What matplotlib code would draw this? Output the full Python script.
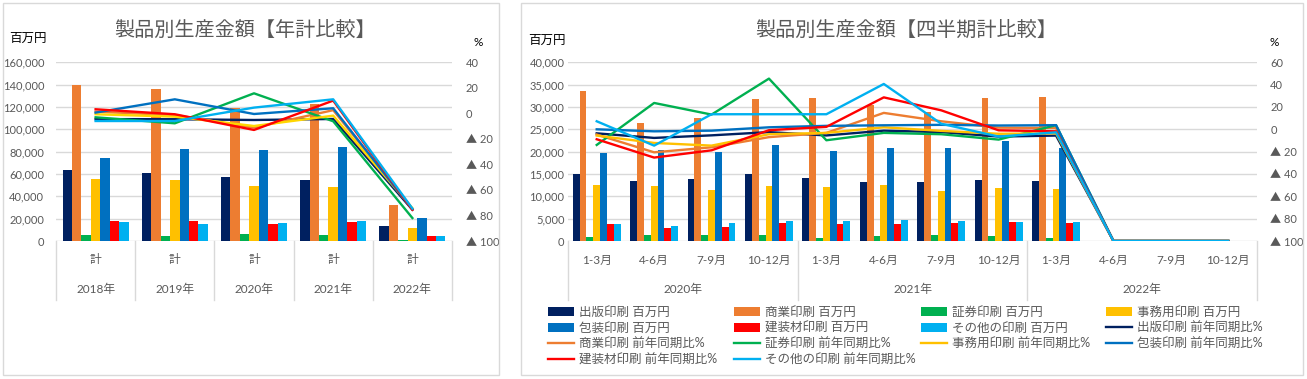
import matplotlib
matplotlib.use('Agg')
import matplotlib.pyplot as plt
from matplotlib.ticker import FuncFormatter
from matplotlib.transforms import blended_transform_factory
from matplotlib.patches import Rectangle
import numpy as np

plt.rcParams['font.family'] = ['Lato', 'Noto Sans CJK JP', 'DejaVu Sans']

# ---------------- data ----------------
series_names = ['出版印刷', '商業印刷', '証券印刷', '事務用印刷', '包装印刷', '建装材印刷', 'その他の印刷']
bar_colors = ['#002060', '#ED7D31', '#00B050', '#FFC000', '#0070C0', '#FF0000', '#00B0F0']
line_colors_left = ['#002060', '#ED7D31', '#00B050', '#FFD600', '#0070C0', '#FF0000', '#00B0F0']

# Left chart: annual totals (百万円) and YoY (%)
years = ['2018年', '2019年', '2020年', '2021年', '2022年']
year_sub = ['計', '計', '計', '計', '計']
annual_shuppan = [63300, 60600, 57000, 54600, 13400]
annual_shogyo = [139700, 135800, 119400, 123000, 32500]
annual_shoken = [5100, 4800, 6000, 5100, 900]
annual_jimu = [55500, 54600, 49000, 48100, 11300]
annual_hoso = [74300, 82700, 81800, 84500, 20300]
annual_kenso = [17600, 17600, 15200, 17000, 4200]
annual_other = [16700, 15200, 16100, 17900, 4200]

yoy_shuppan = [-4.5, -4.6, -5.2, -4.4, -75.5]
yoy_shogyo = [1.3, -1.3, -11.2, 2.5, -74.8]
yoy_shoken = [-3.1, -7.8, 15.7, -6.2, -82.0]
yoy_jimu = [-0.7, -2.6, -9.9, -1.8, -74.3]
yoy_hoso = [0.6, 11.0, -0.5, 4.0, -75.3]
yoy_kenso = [3.2, -0.7, -13.0, 10.0, -75.5]
yoy_other = [-6.0, -6.0, 4.5, 11.0, -74.6]

# Right chart: quarterly totals (百万円) and YoY (%)
quarters = ['1-3月', '4-6月', '7-9月', '10-12月'] * 3
q_years = ['2020年', '2021年', '2022年']
q_shuppan = [15000, 13400, 13800, 15000, 14100, 13100, 13200, 13650, 13450, 0, 0, 0]
q_shogyo = [33500, 26500, 27600, 31750, 32100, 30400, 28800, 31950, 32150, 0, 0, 0]
q_shoken = [900, 1400, 1350, 1400, 700, 1050, 1450, 1100, 750, 0, 0, 0]
q_jimu = [12500, 12250, 11350, 12250, 12000, 12450, 11200, 11850, 11650, 0, 0, 0]
q_hoso = [19750, 20300, 19950, 21500, 20150, 20850, 20900, 22400, 20900, 0, 0, 0]
q_kenso = [3900, 3000, 3200, 4100, 3900, 3900, 3950, 4200, 3950, 0, 0, 0]
q_other = [3900, 3300, 4100, 4400, 4400, 4600, 4500, 4200, 4200, 0, 0, 0]

qy_shuppan = [-3.6, -7.7, -5.4, -2.5, -5.5, -1.2, -2.5, -6.5, -5.6, -100, -100, -100]
qy_shogyo = [-4.7, -20.6, -16.1, -7.0, -3.2, 14.7, 7.2, 1.5, 1.2, -100, -100, -100]
qy_shoken = [-14.0, 23.6, 13.2, 45.4, -9.8, -3.2, -4.4, -9.2, 3.7, -100, -100, -100]
qy_jimu = [-5.6, -12.2, -14.6, -4.4, -3.2, 1.8, -1.4, -4.0, -3.6, -100, -100, -100]
qy_hoso = [0.0, -1.8, -1.2, 1.8, 3.1, 3.6, 4.0, 3.4, 3.7, -100, -100, -100]
qy_kenso = [-8.9, -25.3, -18.8, -0.8, 2.2, 28.6, 17.0, -0.9, -1.8, -100, -100, -100]
qy_other = [7.2, -14.6, 13.5, 13.5, 13.5, 40.6, 5.0, -6.5, -2.7, -100, -100, -100]

annual_bars = [annual_shuppan, annual_shogyo, annual_shoken, annual_jimu, annual_hoso, annual_kenso, annual_other]
annual_lines = [yoy_shuppan, yoy_shogyo, yoy_shoken, yoy_jimu, yoy_hoso, yoy_kenso, yoy_other]
q_bars = [q_shuppan, q_shogyo, q_shoken, q_jimu, q_hoso, q_kenso, q_other]
q_lines = [qy_shuppan, qy_shogyo, qy_shoken, qy_jimu, qy_hoso, qy_kenso, qy_other]

# ---------------- layout helpers ----------------
W, H = 1307, 379
fig = plt.figure(figsize=(W / 100, H / 100), dpi=100)
fig.patch.set_facecolor('white')


def fx(px):
    return px / W


def fy(py):
    return 1 - py / H


GRID = '#D9D9D9'
TXT = '#595959'

for (x0, y0, x1, y1) in [(3, 3, 499, 375), (521, 3, 1303, 375)]:
    fig.add_artist(Rectangle((fx(x0), fy(y1)), fx(x1) - fx(x0), fy(y0) - fy(y1),
                             transform=fig.transFigure, fill=False, edgecolor=GRID, lw=1))

PLOT_TOP, PLOT_BOT = 62.3, 241.0
PH = PLOT_BOT - PLOT_TOP


def left_fmt(v, pos):
    return f'{int(v):,}'


def pct_fmt(v, pos):
    v = int(round(v))
    if v < 0:
        return f'▲ {-v}'
    return f'{v}'


def make_chart(x_left, x_right, n, bars, lines, line_colors, ymax, ystep, rmin, rmax,
               lpad, rpad):
    ax = fig.add_axes([fx(x_left), fy(PLOT_BOT), (x_right - x_left) / W, PH / H])
    x = np.arange(n)
    w = 0.119
    bar_handles = []
    for i, (vals, c) in enumerate(zip(bars, bar_colors)):
        bc = ax.bar(x + (i - 3) * w, vals, width=w, color=c, edgecolor='none', zorder=2)
        bar_handles.append(bc)
    ax.set_xlim(-0.5, n - 0.5)
    ax.set_ylim(0, ymax)
    ax.set_yticks(np.arange(0, ymax + 1, ystep))
    ax.yaxis.set_major_formatter(FuncFormatter(left_fmt))
    ax.yaxis.grid(True, color=GRID, lw=1)
    ax.set_axisbelow(True)
    ax.set_xticks([])
    for s in ax.spines.values():
        s.set_visible(False)
    ax.tick_params(axis='y', length=0, labelsize=8, labelcolor=TXT, pad=lpad)

    axr = ax.twinx()
    axr.set_xlim(-0.5, n - 0.5)
    line_handles = []
    for vals, c in zip(lines, line_colors):
        ln, = axr.plot(x, vals, color=c, lw=1.7, zorder=3)
        line_handles.append(ln)
    axr.set_ylim(rmin, rmax)
    axr.set_yticks(np.arange(rmin, rmax + 1, 20))
    axr.yaxis.set_major_formatter(FuncFormatter(pct_fmt))
    for s in axr.spines.values():
        s.set_visible(False)
    axr.tick_params(axis='y', length=0, labelsize=8, labelcolor=TXT, pad=rpad)
    return ax, axr, bar_handles, line_handles


def cat_labels(ax, n, sub_labels, group_labels, group_size, sep_positions):
    tr = blended_transform_factory(ax.transData, ax.transAxes)
    y1 = -(260 - PLOT_BOT) / PH
    y2 = -(289 - PLOT_BOT) / PH
    ysep = -(300 - PLOT_BOT) / PH
    for i, lab in enumerate(sub_labels):
        ax.text(i, y1, lab, transform=tr, ha='center', va='center', fontsize=8.5, color=TXT)
    for g, lab in enumerate(group_labels):
        cx = g * group_size + (group_size - 1) / 2
        ax.text(cx, y2, lab, transform=tr, ha='center', va='center', fontsize=8.5, color=TXT)
    for xs in sep_positions:
        ax.plot([xs, xs], [0, ysep], transform=tr, color=GRID, lw=1, clip_on=False)


# ---------------- left chart ----------------
ax1, ax1r, _, _ = make_chart(56, 452, len(years), annual_bars, annual_lines, line_colors_left,
                             160000, 20000, -100, 40, 8.5, 10)
cat_labels(ax1, len(years), year_sub, years, 1, [i - 0.5 for i in range(len(years) + 1)])
fig.text(fx(245), fy(30), '製品別生産金額【年計比較】', ha='center', va='center',
         fontsize=14.5, color=TXT)
fig.text(fx(9), fy(38), '百万円', ha='left', va='center', fontsize=9, color='#000000')
fig.text(fx(473), fy(43), '%', ha='left', va='center', fontsize=8.5, color='#000000')

# ---------------- right chart ----------------
ax2, ax2r, bh, lh = make_chart(568, 1257, len(quarters), q_bars, q_lines, bar_colors,
                               40000, 5000, -100, 60, 2.5, 9.5)
cat_labels(ax2, len(quarters), quarters, q_years, 4, [-0.5, 3.5, 7.5, 11.5])
fig.text(fx(906), fy(30), '製品別生産金額【四半期計比較】', ha='center', va='center',
         fontsize=14.5, color=TXT)
fig.text(fx(528), fy(40), '百万円', ha='left', va='center', fontsize=9, color='#000000')
fig.text(fx(1270), fy(43), '%', ha='left', va='center', fontsize=8.5, color='#000000')

# legend (row-major order, 4 columns)
handles = bh + lh
labels = [f'{s} 百万円' for s in series_names] + [f'{s} 前年同期比%' for s in series_names]
col_x = [548, 734, 921, 1106]
for c in range(4):
    idx = list(range(c, len(handles), 4))
    leg = fig.legend([handles[i] for i in idx], [labels[i] for i in idx],
                     loc='upper left', bbox_to_anchor=(fx(col_x[c]), fy(306)),
                     bbox_transform=fig.transFigure, frameon=False, ncol=1,
                     fontsize=9, labelcolor=TXT, borderpad=0, borderaxespad=0,
                     handlelength=2.1, handletextpad=0.35, labelspacing=0.3)
    for t in leg.get_texts():
        t.set_color(TXT)

fig.savefig('out.png', dpi=100, facecolor='white')
